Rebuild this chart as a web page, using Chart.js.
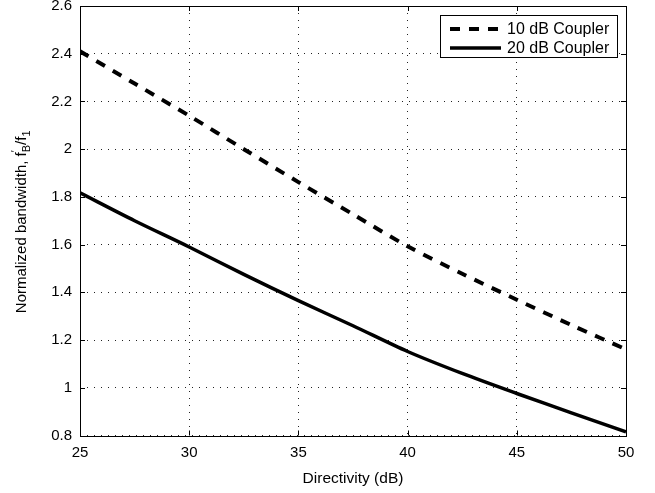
<!DOCTYPE html>
<html>
<head>
<meta charset="utf-8">
<script src="https://cdn.jsdelivr.net/npm/chart.js@4.4.1/dist/chart.umd.min.js"></script>
<style>
  html, body { margin: 0; padding: 0; background: #fff; }
  #wrap { width: 655px; height: 493px; }
</style>
</head>
<body>
<div id="wrap"><canvas id="bwChart" width="655" height="493"></canvas></div>
<script>
// values
const directivity = [25, 27.5, 30, 32.5, 35, 37.5, 40, 42.5, 45, 47.5, 50];
const coupler10 = [2.41, 2.275, 2.14, 2.0, 1.862, 1.727, 1.593, 1.478, 1.369, 1.263, 1.161];
const coupler20 = [1.817, 1.70, 1.59, 1.475, 1.365, 1.26, 1.152, 1.06, 0.976, 0.895, 0.815];
const seriesLabels = ['10 dB Coupler', '20 dB Coupler'];
const xTicks = [25, 30, 35, 40, 45, 50];
const yTicks = [0.8, 1, 1.2, 1.4, 1.6, 1.8, 2, 2.2, 2.4, 2.6];

const FONT = '"Liberation Sans", Arial, Helvetica, sans-serif';

function toPoints(ys) {
    return directivity.map((x, i) => ({ x: x, y: ys[i] }));
}

// box, inward tick marks, y title with subscripts, legend
const matlabDecor = {
    id: 'matlabDecor',
    afterDraw(chart) {
        const ctx = chart.ctx;
        const a = chart.chartArea;
        const xs = chart.scales.x, ys = chart.scales.y;
        ctx.save();
        ctx.strokeStyle = '#000';
        ctx.lineWidth = 1;
        ctx.setLineDash([]);
        // tick marks
        ctx.beginPath();
        xTicks.forEach(v => {
            const px = Math.round(xs.getPixelForValue(v)) + 0.5;
            ctx.moveTo(px, a.bottom); ctx.lineTo(px, a.bottom - 5);
            ctx.moveTo(px, a.top); ctx.lineTo(px, a.top + 5);
        });
        yTicks.forEach(v => {
            const py = Math.round(ys.getPixelForValue(v)) + 0.5;
            ctx.moveTo(a.left, py); ctx.lineTo(a.left + 5, py);
            ctx.moveTo(a.right, py); ctx.lineTo(a.right - 5, py);
        });
        ctx.stroke();
        ctx.strokeRect(Math.round(a.left) + 0.5, Math.round(a.top) + 0.5,
            Math.round(a.right - a.left), Math.round(a.bottom - a.top));

        // y axis title: Normalized bandwidth, f'_B/f_1
        ctx.fillStyle = '#000';
        ctx.translate(22, (a.top + a.bottom) / 2);
        ctx.rotate(-Math.PI / 2);
        ctx.textBaseline = 'middle';
        const big = '15px ' + FONT, small = '11px ' + FONT;
        const parts = [
            ['Normalized bandwidth, f', big, 0],
            ['\u2032', small, -6],
            ['B', small, 5],
            ['/f', big, 0],
            ['1', small, 5]
        ];
        let total = 0;
        parts.forEach(p => { ctx.font = p[1]; total += ctx.measureText(p[0]).width; });
        let cx = -total / 2;
        parts.forEach((p, i) => {
            ctx.font = p[1];
            ctx.textAlign = 'left';
            if (i === 2) cx -= ctx.measureText('\u2032').width; // prime sits over the subscript
            ctx.fillText(p[0], cx, p[2]);
            cx += ctx.measureText(p[0]).width;
        });
        ctx.setTransform(1, 0, 0, 1, 0, 0);

        // legend
        const lx = 440, ly = 15, lw = 177, lh = 42;
        ctx.fillStyle = '#fff';
        ctx.fillRect(lx, ly, lw, lh);
        ctx.strokeStyle = '#000';
        ctx.lineWidth = 1;
        ctx.strokeRect(lx + 0.5, ly + 0.5, lw, lh);
        chart.data.datasets.forEach((ds, i) => {
            const yy = ly + 14 + i * 19;
            ctx.beginPath();
            ctx.lineWidth = ds.borderWidth;
            ctx.setLineDash(ds.borderDash || []);
            ctx.moveTo(450, yy);
            ctx.lineTo(501, yy);
            ctx.stroke();
            ctx.setLineDash([]);
            ctx.fillStyle = '#000';
            ctx.font = '16px ' + FONT;
            ctx.textAlign = 'left';
            ctx.textBaseline = 'middle';
            ctx.fillText(ds.label, 507, yy + 1);
        });
        ctx.restore();
    }
};

new Chart(document.getElementById('bwChart').getContext('2d'), {
    type: 'line',
    data: {
        datasets: [
            {
                label: seriesLabels[0],
                data: toPoints(coupler10),
                borderColor: '#000',
                borderWidth: 4,
                borderDash: [10, 9],
                pointRadius: 0,
                tension: 0.3,
                fill: false
            },
            {
                label: seriesLabels[1],
                data: toPoints(coupler20),
                borderColor: '#000',
                borderWidth: 3.5,
                pointRadius: 0,
                tension: 0.3,
                fill: false
            }
        ]
    },
    options: {
        responsive: false,
        animation: false,
        layout: { padding: { top: 6, right: 29, left: 0, bottom: 0 } },
        plugins: {
            legend: { display: false },
            tooltip: { enabled: false }
        },
        scales: {
            x: {
                type: 'linear',
                min: 25,
                max: 50,
                afterBuildTicks: s => { s.ticks = xTicks.map(v => ({ value: v })); },
                afterFit: s => { s.height = 57.5; s.paddingLeft = 0; s.paddingRight = 0; },
                border: { display: false, dash: [1, 6] },
                grid: { color: '#222', lineWidth: 1, drawTicks: false },
                ticks: {
                    color: '#000',
                    padding: 8,
                    font: { family: FONT, size: 15 },
                    maxRotation: 0
                },
                title: {
                    display: true,
                    text: 'Directivity (dB)',
                    color: '#000',
                    font: { family: FONT, size: 15.5 },
                    padding: { top: 0, bottom: 5 }
                }
            },
            y: {
                type: 'linear',
                min: 0.8,
                max: 2.6,
                afterBuildTicks: s => { s.ticks = yTicks.map(v => ({ value: v })); },
                afterFit: s => { s.width = 80; s.paddingTop = 0; s.paddingBottom = 0; },
                border: { display: false, dash: [1, 6] },
                grid: { color: '#222', lineWidth: 1, drawTicks: false },
                ticks: {
                    color: '#000',
                    padding: 8,
                    font: { family: FONT, size: 15 },
                    callback: v => String(+v.toFixed(1))
                }
            }
        }
    },
    plugins: [matlabDecor]
});
</script>
</body>
</html>
